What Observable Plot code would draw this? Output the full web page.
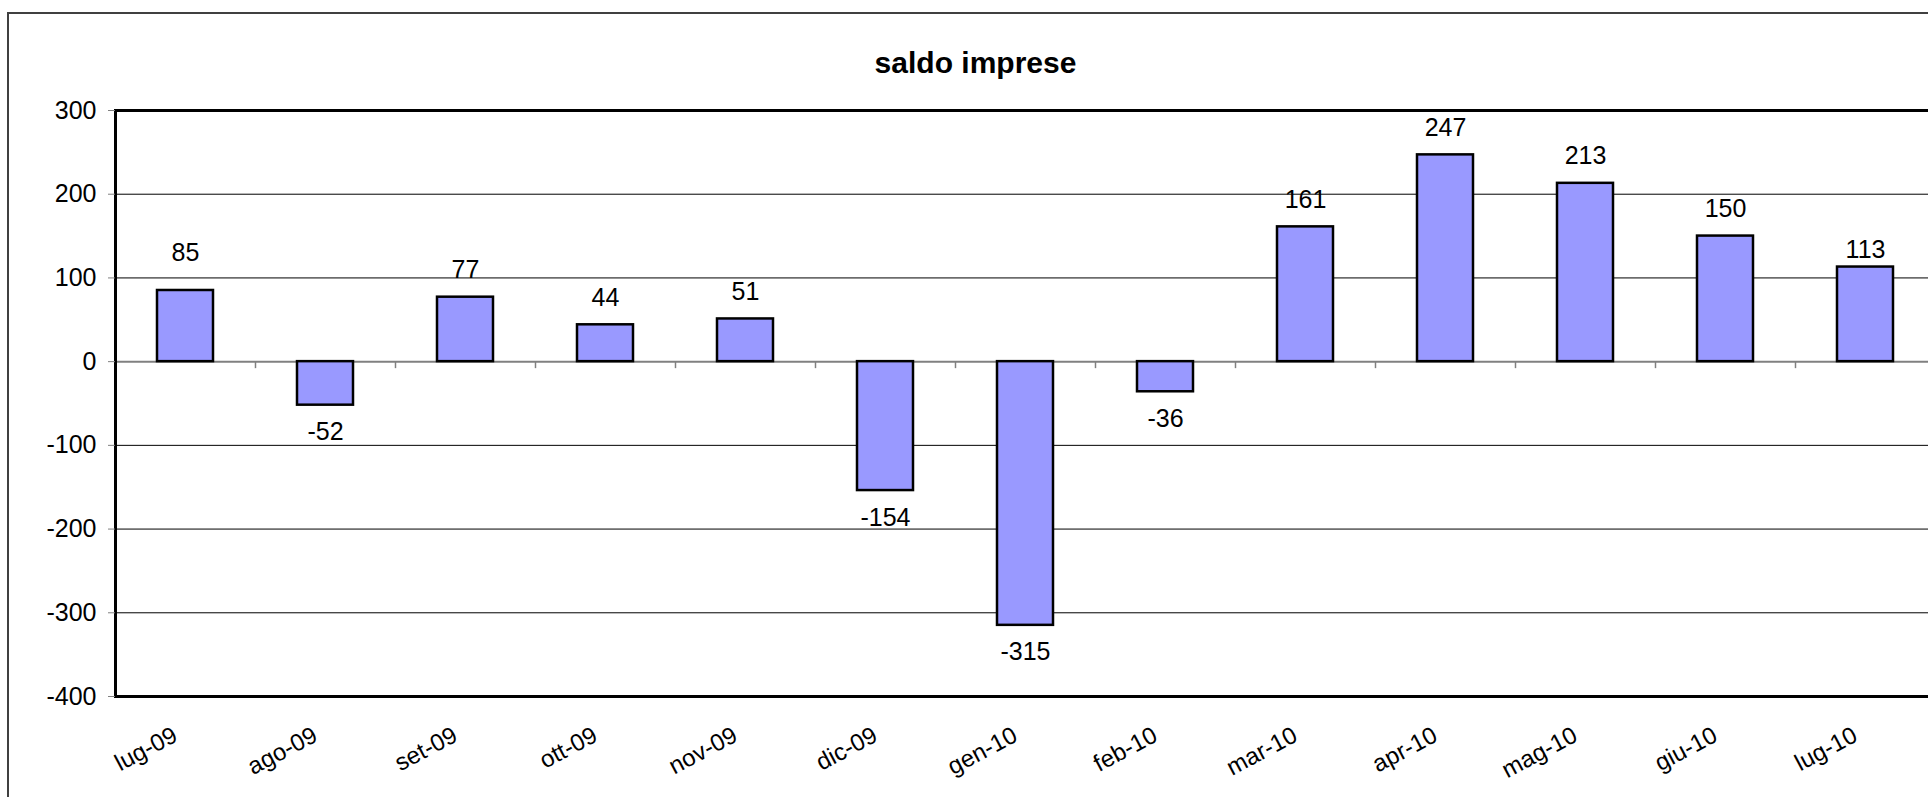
<!DOCTYPE html>
<html>
<head>
<meta charset="utf-8">
<script src="https://cdn.jsdelivr.net/npm/d3@7"></script>
<script src="https://cdn.jsdelivr.net/npm/@observablehq/plot@0.6"></script>
<style>
  html, body { margin: 0; padding: 0; background: #fff; overflow: hidden; }
  #wrap { position: relative; width: 1928px; height: 797px; overflow: hidden;
          font-family: "Liberation Sans", Arial, sans-serif; }
  #outer { position: absolute; left: 7px; top: 12px; width: 2000px; height: 900px;
           border: 2px solid #404040; box-sizing: border-box; pointer-events: none; }
  #title { position: absolute; left: 0; width: 1951px; top: 48px; text-align: center;
           font-weight: bold; font-size: 30px; line-height: 30px; color: #000; }
  #chart { position: absolute; left: 0; top: 0; }
</style>
</head>
<body>
<div id="wrap">
  <div id="chart"></div>
  <div id="outer"></div>
  <div id="title">saldo imprese</div>
</div>
<script>
// ---- data ----
const months = ["lug-09", "ago-09", "set-09", "ott-09", "nov-09", "dic-09", "gen-10",
                "feb-10", "mar-10", "apr-10", "mag-10", "giu-10", "lug-10"];
const values = [85, -52, 77, 44, 51, -154, -315, -36, 161, 247, 213, 150, 113];
const yTicks = [-400, -300, -200, -100, 0, 100, 200, 300];

// ---- layout/style ----
const labelOffset = {"lug-09": 37, "lug-10": 17};
const defaultOffset = 27;
const font = "Liberation Sans, Arial, sans-serif";

const data = months.map((m, i) => ({month: m, value: values[i]}));
const yMin = yTicks[0], yMax = yTicks[yTicks.length - 1];

// value labels grouped by offset
const groups = d3.group(data, d => (labelOffset[d.month] ?? defaultOffset) * (d.value >= 0 ? -1 : 1));
const labelMarks = [...groups].map(([dy, rows]) =>
  Plot.text(rows, {x: "month", y: "value", text: d => String(d.value), dy,
                   lineAnchor: "middle", fontSize: 25, fill: "black"}));

const chart = Plot.plot({
  width: 1928,
  height: 797,
  marginLeft: 115,
  marginTop: 110,
  marginBottom: 101,
  marginRight: 0,
  style: {fontFamily: font, background: "transparent", overflow: "visible", color: "black"},
  x: {domain: months, range: [115, 1935], paddingInner: 0.6, paddingOuter: 0.3, axis: null},
  y: {domain: [yMin, yMax], range: [696, 110], axis: null},
  marks: [
    Plot.ruleY(yTicks.filter(t => t !== 0 && t !== yMin && t !== yMax), {stroke: "black", strokeWidth: 1}),
    Plot.ruleY([0], {stroke: "#808080", strokeWidth: 2}),
    Plot.ruleX(months, {x: d => d, y1: 0, y2: 0, insetBottom: -7, dx: 70, stroke: "#808080", strokeWidth: 1.5}),
    Plot.barY(data, {x: "month", y: "value", fill: "#9999FF", stroke: "black", strokeWidth: 2.5}),
    Plot.frame({anchor: "top", stroke: "black", strokeWidth: 3}),
    Plot.frame({anchor: "bottom", stroke: "black", strokeWidth: 3}),
    Plot.frame({anchor: "left", stroke: "black", strokeWidth: 3}),
    Plot.axisY({ticks: yTicks, tickSize: 7, tickPadding: 12, fontSize: 25, stroke: "#808080",
                fill: "black", label: null, tickFormat: d => String(d)}),
    ...labelMarks,
    Plot.text(months, {x: d => d, y: yMin, text: d => d, rotate: -28, textAnchor: "end",
                       lineAnchor: "middle", dx: -10, dy: 37, fontSize: 24, fill: "black"})
  ]
});
document.getElementById("chart").appendChild(chart);
</script>
</body>
</html>
